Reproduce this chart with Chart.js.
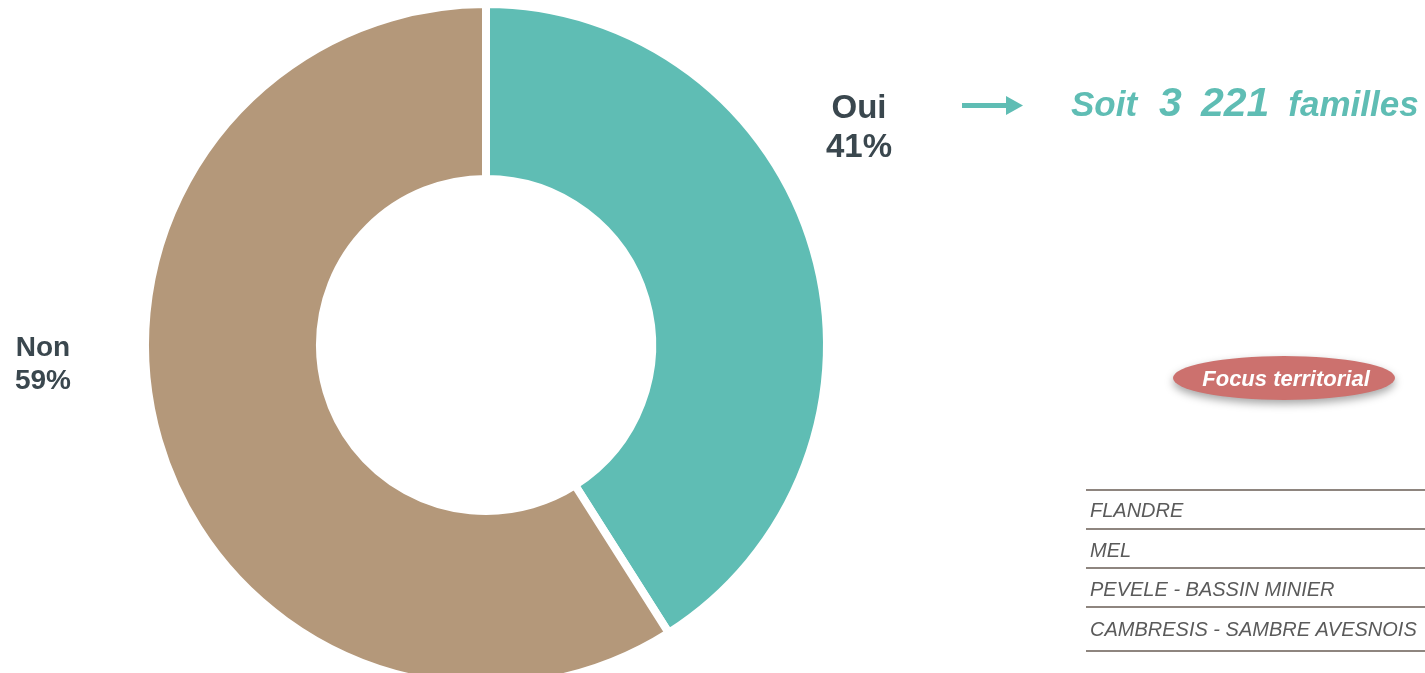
<!DOCTYPE html>
<html lang="fr">
<head>
<meta charset="utf-8">
<title>Oui / Non</title>
<script src="https://cdn.jsdelivr.net/npm/chart.js@4.4.1/dist/chart.umd.min.js"></script>
<style>
    html, body {
        margin: 0;
        padding: 0;
        background: #ffffff;
        overflow: hidden;
    }
    #wrap {
        position: relative;
        width: 1425px;
        height: 673px;
        overflow: hidden;
    }
    #donut {
        display: block;
    }
</style>
</head>
<body>
<div id="wrap">
    <canvas id="donut" width="1425" height="700"></canvas>
</div>
<script>
// data
const answerLabels = ['Oui', 'Non'];
const answerShares = [41, 59];
const answerColors = ['#5fbdb4', '#b4987a'];

const familyCount = '3 221';
const territories = ['FLANDRE', 'MEL', 'PEVELE - BASSIN MINIER', 'CAMBRESIS - SAMBRE AVESNOIS'];

// where the slice labels sit (centre x, first baseline, font size, line gap)
const labelSpots = [
    { x: 859, y: 118, size: 33, gap: 39 },
    { x: 43, y: 356, size: 28, gap: 33 },
];

const TEXT_DARK = '#3a474e';
const TEAL = '#5fbdb4';

function drawSliceLabels(ctx) {
    ctx.fillStyle = TEXT_DARK;
    ctx.textAlign = 'center';
    ctx.textBaseline = 'alphabetic';
    answerLabels.forEach((label, i) => {
        const spot = labelSpots[i];
        ctx.font = `bold ${spot.size}px "Liberation Sans", Arial, sans-serif`;
        ctx.fillText(label, spot.x, spot.y);
        ctx.fillText(`${answerShares[i]}%`, spot.x, spot.y + spot.gap);
    });
}

function drawFamilies(ctx) {
    // arrow
    ctx.fillStyle = TEAL;
    ctx.fillRect(962, 103, 46, 5);
    ctx.beginPath();
    ctx.moveTo(1006, 96);
    ctx.lineTo(1023, 105.5);
    ctx.lineTo(1006, 115);
    ctx.closePath();
    ctx.fill();

    ctx.textAlign = 'left';
    ctx.textBaseline = 'alphabetic';
    const base = 116;
    const small = 'italic bold 35px "Liberation Sans", Arial, sans-serif';
    const big = 'italic bold 41px "Liberation Sans", Arial, sans-serif';

    let x = 1071;
    ctx.font = small;
    ctx.fillText('Soit', x, base);
    x += ctx.measureText('Soit').width + 22;

    ctx.font = big;
    const parts = familyCount.split(' ');
    parts.forEach((part) => {
        ctx.fillText(part, x, base);
        x += ctx.measureText(part).width + 19;
    });

    ctx.font = small;
    ctx.fillText('familles', x, base);
}

function drawFocus(ctx) {
    ctx.save();
    ctx.shadowColor = 'rgba(0, 0, 0, 0.35)';
    ctx.shadowBlur = 8;
    ctx.shadowOffsetY = 4;
    ctx.fillStyle = '#cc716e';
    ctx.beginPath();
    ctx.ellipse(1284, 378, 111, 22, 0, 0, Math.PI * 2);
    ctx.fill();
    ctx.restore();

    ctx.fillStyle = '#ffffff';
    ctx.font = 'italic bold 22px "Liberation Sans", Arial, sans-serif';
    ctx.textAlign = 'center';
    ctx.fillText('Focus territorial', 1286, 386);
}

function drawTerritories(ctx) {
    const lineYs = [490, 529, 568, 607, 651];
    ctx.strokeStyle = '#8e857f';
    ctx.lineWidth = 2;
    lineYs.forEach((y) => {
        ctx.beginPath();
        ctx.moveTo(1086, y);
        ctx.lineTo(1425, y);
        ctx.stroke();
    });

    ctx.fillStyle = '#5a5a5a';
    ctx.font = 'italic 20px "Liberation Sans", Arial, sans-serif';
    ctx.textAlign = 'left';
    const baselines = [517, 557, 596, 636];
    territories.forEach((name, i) => {
        ctx.fillText(name, 1090, baselines[i]);
    });
}

const decorations = {
    id: 'decorations',
    afterDraw(chart) {
        const ctx = chart.ctx;
        ctx.save();
        drawSliceLabels(ctx);
        drawFamilies(ctx);
        drawFocus(ctx);
        drawTerritories(ctx);
        ctx.restore();
    },
};

document.addEventListener('DOMContentLoaded', () => {
    const ctx = document.getElementById('donut').getContext('2d');
    new Chart(ctx, {
        type: 'doughnut',
        data: {
            labels: answerLabels,
            datasets: [{
                data: answerShares,
                backgroundColor: answerColors,
                borderColor: '#ffffff',
                borderWidth: 8,
                hoverBorderWidth: 8,
                offset: 0,
                hoverOffset: 0,
            }],
        },
        options: {
            responsive: false,
            animation: false,
            devicePixelRatio: 1,
            cutout: '48.7%',
            layout: {
                padding: { left: 140, right: 593, top: -2, bottom: 10 },
            },
            plugins: {
                legend: { display: false },
                tooltip: { enabled: false },
            },
        },
        plugins: [decorations],
    });
});
</script>
</body>
</html>
